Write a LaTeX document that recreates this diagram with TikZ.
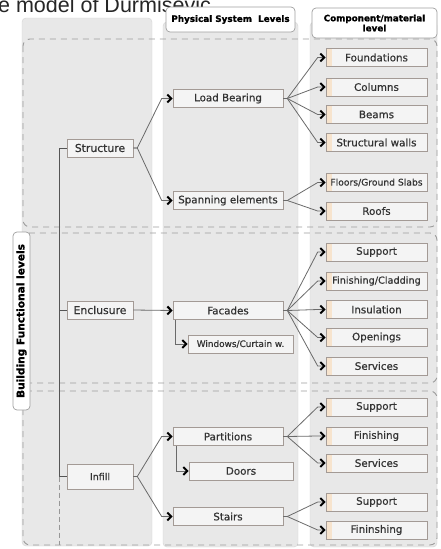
\documentclass[tikz,border=0pt]{standalone}
\usepackage{fontspec}
\setmainfont{DejaVu Sans}[FakeBold=0.6]
\newfontfamily\capfont{Liberation Sans}
\newfontfamily\hdrfont{DejaVu Sans}[FakeBold=1.2]
\usetikzlibrary{arrows.meta}
\definecolor{colbg}{HTML}{E8E8E8}
\definecolor{boxfill}{HTML}{F4F4F4}
\definecolor{boxline}{HTML}{A39A95}
\definecolor{txt}{HTML}{333333}
\definecolor{wire}{HTML}{6A6A6A}
\definecolor{dashc}{HTML}{9C9C9C}
\definecolor{tint}{HTML}{F7E4CE}
\tikzset{
  colbox/.style={fill=colbg, draw=colbg!92!black, rounded corners=4pt},
  band/.style={draw=dashc, dash pattern=on 6pt off 5pt, line width=0.9pt, rounded corners=7pt},
  item/.style={draw=boxline, fill=boxfill, text=txt, inner sep=0pt, minimum height=18pt,
    font=\fontsize{10.3}{12}\selectfont, line width=0.6pt},
  lvlone/.style={item, minimum width=66pt, font=\fontsize{10.8}{13}\selectfont},
  lvltwo/.style={item, minimum width=110pt},
  lvlthree/.style={item, minimum width=101pt,
    path picture={\fill[tint] (path picture bounding box.north west) rectangle
      ([xshift=6pt]path picture bounding box.south west);}},
  link/.style={draw=wire, line width=0.8pt,
    -{Straight Barb[length=4pt,width=8pt,line width=2pt,color=black]}},
  spine/.style={draw=wire!80!black, line width=0.9pt},
  hdr/.style={draw=gray!75, fill=white, rounded corners=4pt, align=center, inner sep=1pt,
    font=\hdrfont\bfseries\fontsize{8.8}{10}\selectfont, line width=0.7pt},
}
\begin{document}
\begin{tikzpicture}[x=1pt,y=-1pt]
\useasboundingbox (0,0) rectangle (441,549);
\fill[white] (0,0) rectangle (441,549);

% caption line running off the top edge
\node[anchor=base east, inner sep=0pt, text=black!85,
  font=\capfont\fontsize{21.5}{24}\selectfont] (cap) at (217,12) {e model of Durmisevic.};

% column backgrounds
\draw[colbox] (22,18) rectangle (152,546);
\draw[colbox] (163,22) rectangle (298,547);
\draw[colbox] (310,22) rectangle (437,547);

% functional bands
\draw[band] (23,39) rectangle (437,227);
\draw[band] (23,233) rectangle (437,383);
\draw[band] (23,391) rectangle (437,545);

% column headers
\node[hdr, minimum width=129pt, minimum height=25pt] (hphys) at (230.5,19.5) {Physical System\ \ Levels};
\node[hdr, minimum width=125pt, minimum height=30pt] (hcomp) at (374.5,23) {Component/material\\level};
\node[hdr, rotate=90, minimum width=178pt, minimum height=17pt,
  font=\hdrfont\bfseries\fontsize{10.6}{12}\selectfont] (hfunc) at (21.5,321) {Building Functional levels};

% building functional level
\node[lvlone] (st) at (100,148) {Structure};
\node[lvlone] (en) at (100,310) {Enclusure};
\node[lvlone, minimum height=25pt, font=\fontsize{9.5}{11}\selectfont] (inf) at (100,476.5) {Infill};

% physical system level
\node[lvltwo] (lb) at (228,98.5) {Load Bearing};
\node[lvltwo] (sp) at (228,200.5) {Spanning elements};
\node[lvltwo] (fa) at (228,310.5) {Facades};
\node[lvltwo, minimum width=105pt, font=\fontsize{8.9}{10}\selectfont] (wi) at (240.5,344) {Windows/Curtain w.};
\node[lvltwo] (pa) at (228,436.5) {Partitions};
\node[lvltwo, minimum width=104pt] (do) at (241,471) {Doors};
\node[lvltwo] (sta) at (228,516.5) {Stairs};

% component / material level
\node[lvlthree] (fo) at (376.5,57.5) {Foundations};
\node[lvlthree] (co) at (376.5,87) {Columns};
\node[lvlthree] (be) at (376.5,114.5) {Beams};
\node[lvlthree] (sw) at (376.5,142.5) {Structural walls};
\node[lvlthree, font=\fontsize{9.2}{11}\selectfont] (fl) at (376.5,182.5) {Floors/Ground Slabs};
\node[lvlthree] (ro) at (376.5,211) {Roofs};
\node[lvlthree] (esu) at (376.5,252) {Support};
\node[lvlthree, font=\fontsize{9.7}{11}\selectfont] (efi) at (376.5,281) {Finishing/Cladding};
\node[lvlthree] (ein) at (376.5,309.5) {Insulation};
\node[lvlthree] (eop) at (376.5,337.5) {Openings};
\node[lvlthree] (ese) at (376.5,366) {Services};
\node[lvlthree] (psu) at (376.5,407) {Support};
\node[lvlthree] (pfi) at (376.5,436) {Finishing};
\node[lvlthree] (pse) at (376.5,463) {Services};
\node[lvlthree] (ssu) at (376.5,502) {Support};
\node[lvlthree] (sfi) at (376.5,530) {Fininshing};

% spine joining the functional levels
\draw[spine] (st.west) -- ++(-7,0) |- (inf.west);
\draw[spine] (en.west) -- ++(-7,0);
\draw[spine, dash pattern=on 5pt off 3pt, draw=wire!70] ([xshift=-7pt]inf.west) -- ++(0,68);

% functional -> physical
\foreach \c in {lb,sp} \draw[link] (st.east) -- ++(4,0) -- ([xshift=-11pt]\c.west) -- (\c.west);
\draw[link] (en.east) -- (fa.west);
\foreach \c in {pa,sta} \draw[link] (inf.east) -- ++(4,0) -- ([xshift=-11pt]\c.west) -- (\c.west);
\draw[link] ([xshift=3pt]fa.south west) |- (wi.west);
\draw[link] ([xshift=4pt]pa.south west) |- (do.west);

% physical -> component
\foreach \c in {fo,co,be,sw} \draw[link] (lb.east) -- ++(4,0) -- ([xshift=-8pt]\c.west) -- (\c.west);
\foreach \c in {fl,ro} \draw[link] (sp.east) -- ++(4,0) -- ([xshift=-8pt]\c.west) -- (\c.west);
\foreach \c in {esu,efi,ein,eop,ese} \draw[link] (fa.east) -- ++(4,0) -- ([xshift=-8pt]\c.west) -- (\c.west);
\foreach \c in {psu,pfi,pse} \draw[link] (pa.east) -- ++(4,0) -- ([xshift=-8pt]\c.west) -- (\c.west);
\foreach \c in {ssu,sfi} \draw[link] (sta.east) -- ++(4,0) -- ([xshift=-8pt]\c.west) -- (\c.west);
\end{tikzpicture}
\end{document}
